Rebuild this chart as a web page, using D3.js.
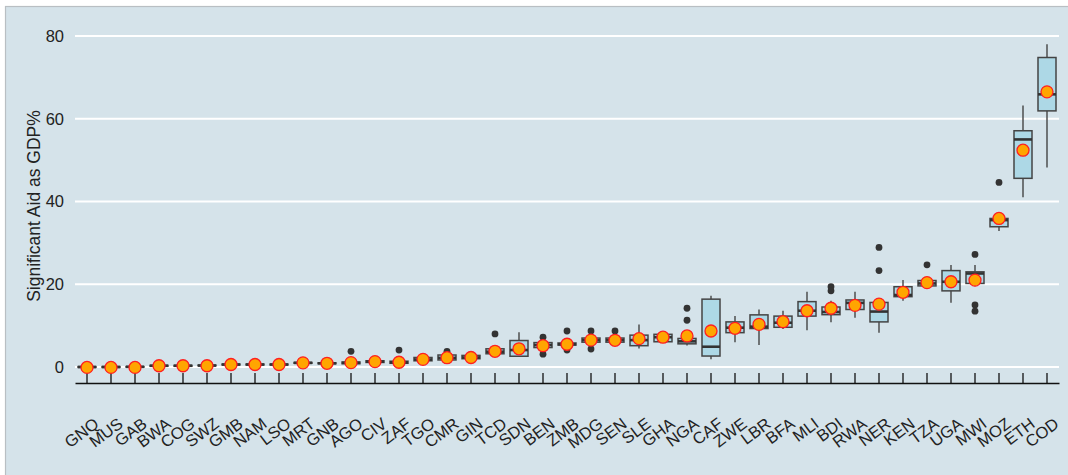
<!DOCTYPE html>
<html>
<head>
<meta charset="utf-8">
<script src="https://cdn.jsdelivr.net/npm/d3@7"></script>
<style>
  html, body { margin: 0; padding: 0; background: #ffffff; }
  svg { display: block; font-family: "Liberation Sans", Arial, sans-serif; }
</style>
</head>
<body>
<svg id="chart" width="1068" height="475"></svg>
<script>
// Country codes, ordered by mean aid share
const countries = ["GNQ","MUS","GAB","BWA","COG","SWZ","GMB","NAM","LSO","MRT","GNB",
  "AGO","CIV","ZAF","TGO","CMR","GIN","TCD","SDN","BEN","ZMB","MDG","SEN","SLE","GHA",
  "NGA","CAF","ZWE","LBR","BFA","MLI","BDI","RWA","NER","KEN","TZA","UGA","MWI","MOZ","ETH","COD"];

// Box statistics (aid as % of GDP)
const whiskerLow  = [-0.2,-0.2,-0.1,0.1,0.1,0.2,0.4,0.4,0.4,0.8,0.7,
  0.7,1.0,0.8,1.4,1.6,1.9,3.0,2.6,4.5,5.0,5.5,5.6,4.5,6.0,
  5.2,1.85,6.0,5.3,9.2,8.9,10.8,11.9,8.3,16.0,19.3,15.5,19.5,32.9,41.0,48.2];
const q1          = [-0.1,-0.1,0.0,0.2,0.2,0.3,0.5,0.5,0.5,0.9,0.8,
  0.8,1.1,0.9,1.5,1.7,2.0,3.2,2.6,4.7,5.3,6.0,6.0,5.15,6.1,
  5.6,2.65,8.3,9.3,9.6,12.3,12.65,13.9,10.9,17.0,19.6,18.4,20.2,33.9,45.6,61.9];
const medians     = [0.0,0.0,0.05,0.3,0.3,0.35,0.6,0.6,0.6,1.0,0.9,
  1.0,1.3,1.1,1.8,2.2,2.3,3.7,4.1,5.3,5.5,6.5,6.5,6.5,7.2,
  6.2,4.9,9.5,9.75,10.7,13.6,13.3,15.5,13.4,17.4,20.2,20.6,22.6,35.5,55.0,65.9];
const q3          = [0.1,0.1,0.1,0.4,0.4,0.45,0.7,0.7,0.7,1.1,1.0,
  1.2,1.5,1.4,2.3,2.9,2.8,4.4,6.4,5.9,5.8,7.0,7.0,7.7,7.9,
  6.9,16.4,10.9,12.6,12.3,15.8,14.5,16.2,15.6,19.4,20.9,23.3,23.0,35.9,57.1,74.8];
const whiskerHigh = [0.2,0.2,0.2,0.5,0.5,0.6,0.9,0.9,0.9,1.3,1.2,
  1.5,1.8,1.7,2.7,3.3,3.1,5.0,8.4,6.5,6.3,7.5,7.5,10.3,8.3,
  7.6,17.2,12.3,13.9,13.6,18.2,16.0,18.2,16.5,21.0,21.3,24.65,24.65,36.3,63.2,78.0];
const means       = [-0.1,-0.1,-0.1,0.3,0.3,0.3,0.6,0.6,0.6,1.0,0.9,
  1.05,1.3,1.15,1.85,2.25,2.3,3.8,4.4,5.15,5.5,6.5,6.45,6.85,7.2,
  7.5,8.7,9.35,10.3,10.95,13.6,14.2,14.9,15.2,18.05,20.4,20.6,21.0,35.9,52.4,66.5];
const outliers    = [[],[],[],[0.9],[],[],[],[],[],[],[],
  [3.8],[],[4.1],[],[3.8],[],[8.0],[],[7.2,3.1],[8.7,4.1],[8.7,4.35],[8.7],[],[],
  [14.2,11.3],[],[],[],[],[],[19.4,18.4],[],[28.9,23.3],[],[24.7],[],[27.2,15.0,13.5],[44.6],[],[]];

const yTicks = [0, 20, 40, 60, 80];

const svg = d3.select("#chart");
const W = 1068, H = 475;

// Panel background
svg.append("rect").attr("x", 5.5).attr("y", 6.5).attr("width", W).attr("height", H)
  .attr("fill", "#d5e3ea").attr("stroke", "#b9bfc3").attr("stroke-width", 1.2);

const plot = { left: 75, right: 1059, top: 20, bottom: 383 };

const x = d3.scaleBand().domain(countries).range([plot.left, plot.right]).padding(0);
const y = d3.scaleLinear().domain([0, 80]).range([367, 36]);
const boxW = x.bandwidth() * 0.75;
const cx = c => x(c) + x.bandwidth() / 2;

// Horizontal gridlines
svg.append("g").selectAll("line").data(yTicks).join("line")
  .attr("x1", plot.left).attr("x2", plot.right)
  .attr("y1", d => y(d)).attr("y2", d => y(d))
  .attr("stroke", "#ffffff").attr("stroke-width", 2);

// Y tick labels
svg.append("g").selectAll("text").data(yTicks).join("text")
  .attr("x", 64).attr("y", d => y(d)).attr("dy", "0.36em")
  .attr("text-anchor", "end").attr("font-size", 16.5).attr("fill", "#222")
  .text(d => d);

// Y axis title
svg.append("text")
  .attr("transform", "translate(40,206) rotate(-90)")
  .attr("text-anchor", "middle").attr("font-size", 17.5).attr("fill", "#222")
  .text("Significant Aid as GDP%");

// X axis: baseline with ticks pointing up into the panel
const xAxis = d3.axisBottom(x).tickSize(-10).tickSizeOuter(0).tickFormat("");
const gx = svg.append("g").attr("transform", `translate(0,${plot.bottom})`).call(xAxis);
gx.select(".domain").attr("stroke", "#111").attr("stroke-width", 1.5);
gx.selectAll(".tick line").attr("stroke", "#111").attr("stroke-width", 1.3);

// X labels, rotated
svg.append("g").selectAll("text").data(countries).join("text")
  .attr("transform", d => `translate(${cx(d) + 13},${plot.bottom + 43}) rotate(-37)`)
  .attr("text-anchor", "end").attr("font-size", 16.5).attr("fill", "#222")
  .text(d => d);

const rows = countries.map((c, i) => ({
  c, lo: whiskerLow[i], q1: q1[i], med: medians[i], q3: q3[i], hi: whiskerHigh[i],
  mean: means[i], out: outliers[i]
}));

const boxes = svg.append("g");
const g = boxes.selectAll("g").data(rows).join("g");

// Whiskers
g.append("line").attr("x1", d => cx(d.c)).attr("x2", d => cx(d.c))
  .attr("y1", d => y(d.hi)).attr("y2", d => y(d.q3))
  .attr("stroke", "#444").attr("stroke-width", 1.4);
g.append("line").attr("x1", d => cx(d.c)).attr("x2", d => cx(d.c))
  .attr("y1", d => y(d.q1)).attr("y2", d => y(d.lo))
  .attr("stroke", "#444").attr("stroke-width", 1.4);

// Boxes
g.append("rect")
  .attr("x", d => cx(d.c) - boxW / 2).attr("width", boxW)
  .attr("y", d => y(d.q3)).attr("height", d => Math.max(0.5, y(d.q1) - y(d.q3)))
  .attr("fill", "#add8e6").attr("stroke", "#444").attr("stroke-width", 1.5);

// Medians
g.append("line")
  .attr("x1", d => cx(d.c) - boxW / 2).attr("x2", d => cx(d.c) + boxW / 2)
  .attr("y1", d => y(d.med)).attr("y2", d => y(d.med))
  .attr("stroke", "#333").attr("stroke-width", 2.6);

// Outliers
g.selectAll("circle.out").data(d => d.out.map(v => ({ c: d.c, v }))).join("circle")
  .attr("class", "out")
  .attr("cx", d => cx(d.c)).attr("cy", d => y(d.v)).attr("r", 3.4)
  .attr("fill", "#333");

// Means
g.append("circle")
  .attr("cx", d => cx(d.c)).attr("cy", d => y(d.mean)).attr("r", 6)
  .attr("fill", "#ffa500").attr("stroke", "#ff2020").attr("stroke-width", 1.3);
</script>
</body>
</html>
